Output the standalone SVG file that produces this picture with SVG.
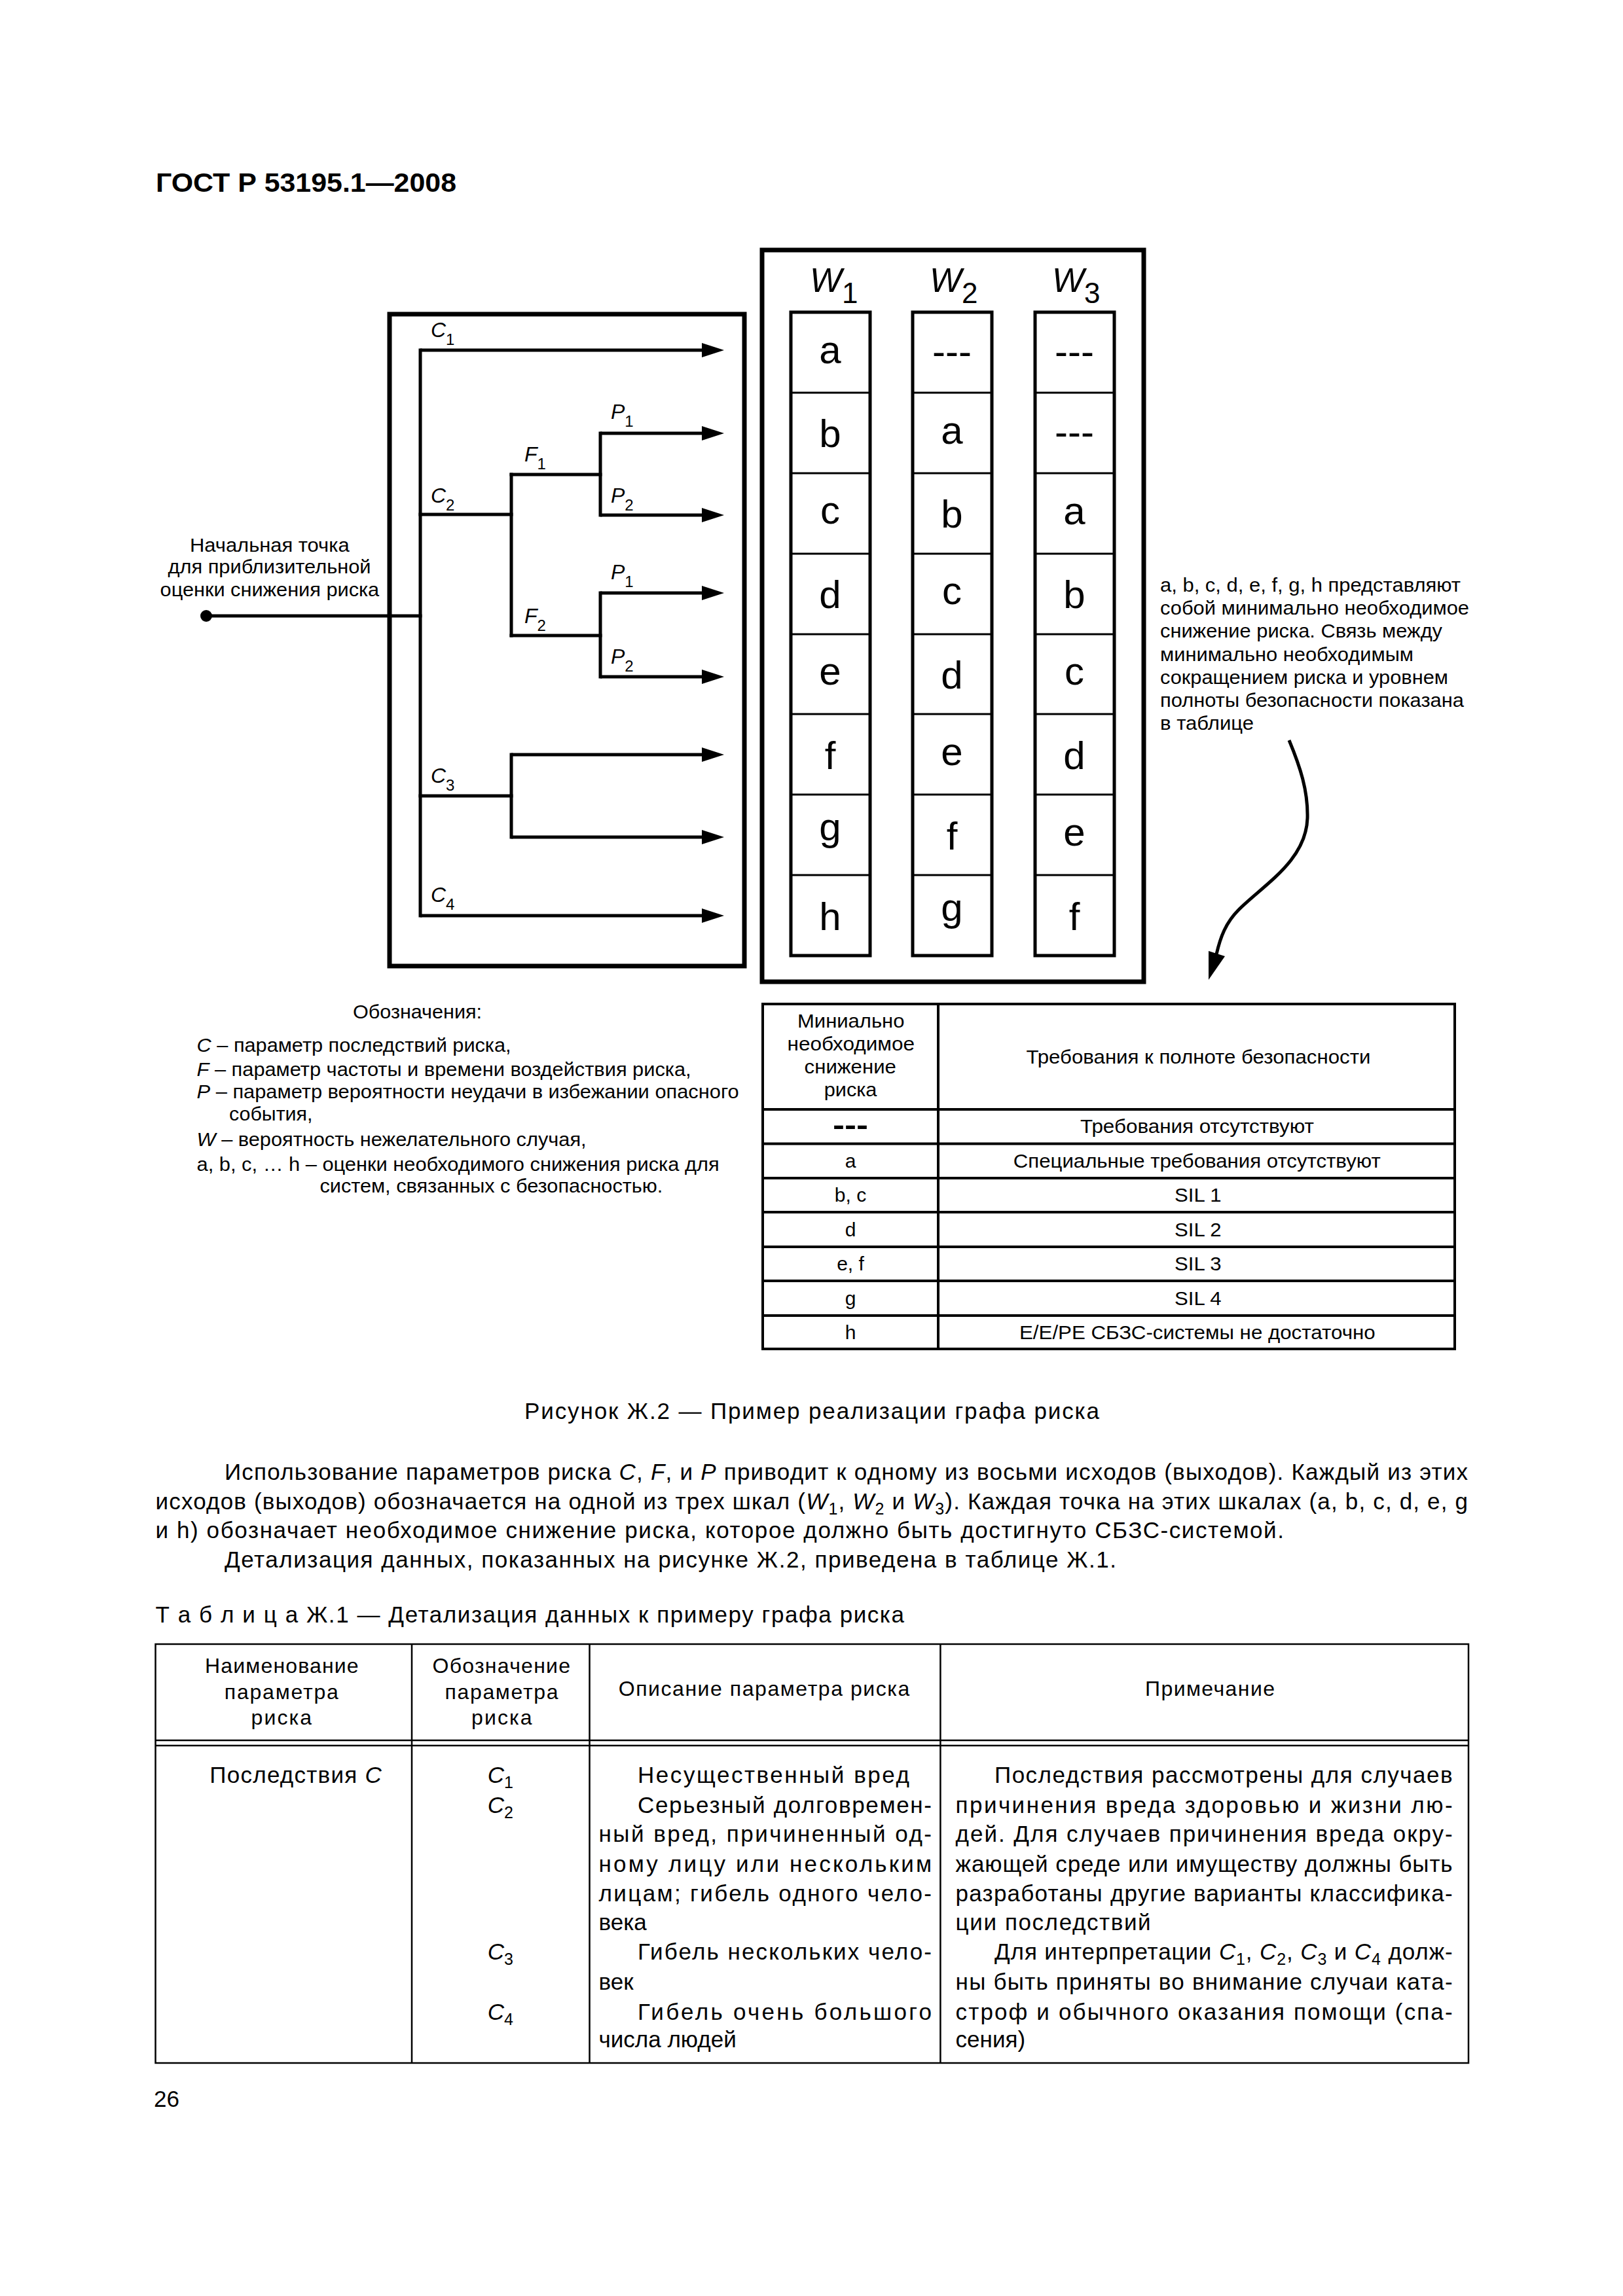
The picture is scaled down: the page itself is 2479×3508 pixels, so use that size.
<svg xmlns="http://www.w3.org/2000/svg" width="2479" height="3508" viewBox="0 0 2479 3508">
<style>
text{font-family:"Liberation Sans",Arial,sans-serif;fill:#000}
.i{font-style:italic}
.box{fill:none;stroke:#000;stroke-width:7}
.col{fill:none;stroke:#000;stroke-width:5}
.div{stroke:#000;stroke-width:3}
.ln{fill:none;stroke:#000;stroke-width:5;stroke-linecap:square}
.arr{fill:none;stroke:#000;stroke-width:5;marker-end:url(#ah)}
.tb{fill:none;stroke:#000;stroke-width:4}
.tb2{fill:none;stroke:#000;stroke-width:2.5}
.lbl{font-size:32px}
.cell{font-size:60px;text-anchor:middle}
.ann{font-size:30px}
.leg{font-size:29px}
.req{font-size:30px}
.body{font-size:35px}
.th{font-size:32px}
</style>
<defs>
<marker id="ah" markerUnits="userSpaceOnUse" markerWidth="36" markerHeight="24" refX="8" refY="11" orient="auto">
<path d="M0,0 L34,11 L0,22 Z" fill="#000"/>
</marker>
</defs>

<g id="header">
<text x="238" y="293" font-size="41" font-weight="bold" textLength="459" lengthAdjust="spacingAndGlyphs">ГОСТ Р  53195.1—2008</text>
</g>

<g id="graph-box">
<rect class="box" x="595" y="480" width="542" height="996"/>
</g>

<g id="start-point">
<circle cx="315" cy="941" r="9" fill="#000"/>
<text class="ann" x="290" y="843" textLength="243.6" lengthAdjust="spacingAndGlyphs">Начальная точка</text>
<text class="ann" x="256.5" y="876" textLength="310" lengthAdjust="spacingAndGlyphs">для приблизительной</text>
<text class="ann" x="244.6" y="911" textLength="334.6" lengthAdjust="spacingAndGlyphs">оценки снижения риска</text>
</g>

<g id="connectors">
<path class="ln" d="M315,941 H642"/>
<path class="ln" d="M642,535 V1399"/>
<path class="ln" d="M642,786 H781"/>
<path class="ln" d="M781,725 V971"/>
<path class="ln" d="M781,725 H917"/>
<path class="ln" d="M917,662 V787"/>
<path class="ln" d="M781,971 H917"/>
<path class="ln" d="M917,906 V1034"/>
<path class="ln" d="M642,1216 H781"/>
<path class="ln" d="M781,1153 V1279"/>
<path class="arr" d="M642,535 H1080"/>
<path class="arr" d="M917,662 H1080"/>
<path class="arr" d="M917,787 H1080"/>
<path class="arr" d="M917,906 H1080"/>
<path class="arr" d="M917,1034 H1080"/>
<path class="arr" d="M781,1153 H1080"/>
<path class="arr" d="M781,1279 H1080"/>
<path class="arr" d="M642,1399 H1080"/>
<path d="M1969,1131 C1986,1172 1998,1208 1997,1250 C1995,1315 1930,1352 1892,1390 C1872,1410 1864,1432 1858,1458" fill="none" stroke="#000" stroke-width="5"/>
<polygon points="1846,1497 1871,1461 1846,1453" fill="#000"/>
</g>

<g id="graph-labels">
<text class="lbl" x="658" y="515"><tspan class="i">C</tspan><tspan font-size="24" dy="12">1</tspan></text>
<text class="lbl" x="658" y="768"><tspan class="i">C</tspan><tspan font-size="24" dy="12">2</tspan></text>
<text class="lbl" x="658" y="1196"><tspan class="i">C</tspan><tspan font-size="24" dy="12">3</tspan></text>
<text class="lbl" x="658" y="1378"><tspan class="i">C</tspan><tspan font-size="24" dy="12">4</tspan></text>
<text class="lbl" x="801" y="705"><tspan class="i">F</tspan><tspan font-size="24" dy="12">1</tspan></text>
<text class="lbl" x="801" y="952"><tspan class="i">F</tspan><tspan font-size="24" dy="12">2</tspan></text>
<text class="lbl" x="933" y="640"><tspan class="i">P</tspan><tspan font-size="24" dy="12">1</tspan></text>
<text class="lbl" x="933" y="768"><tspan class="i">P</tspan><tspan font-size="24" dy="12">2</tspan></text>
<text class="lbl" x="933" y="885"><tspan class="i">P</tspan><tspan font-size="24" dy="12">1</tspan></text>
<text class="lbl" x="933" y="1014"><tspan class="i">P</tspan><tspan font-size="24" dy="12">2</tspan></text>
</g>

<g id="w-box">
<rect class="box" x="1164" y="382" width="583" height="1118"/>
<text x="1237" y="446" font-size="52"><tspan class="i">W</tspan><tspan font-size="44" dy="17">1</tspan></text>
<text x="1420" y="446" font-size="52"><tspan class="i">W</tspan><tspan font-size="44" dy="17">2</tspan></text>
<text x="1607" y="446" font-size="52"><tspan class="i">W</tspan><tspan font-size="44" dy="17">3</tspan></text>
</g>

<g id="w1-scale">
<rect class="col" x="1208" y="477" width="121" height="983"/>
<path class="div" d="M1208,600 H1329 M1208,723 H1329 M1208,846 H1329 M1208,969 H1329 M1208,1091 H1329 M1208,1214 H1329 M1208,1337 H1329"/>
<text class="cell" x="1268" y="555">a</text>
<text class="cell" x="1268" y="683">b</text>
<text class="cell" x="1268" y="800">c</text>
<text class="cell" x="1268" y="929">d</text>
<text class="cell" x="1268" y="1046">e</text>
<text class="cell" x="1268" y="1175">f</text>
<text class="cell" x="1268" y="1284">g</text>
<text class="cell" x="1268" y="1421">h</text>
</g>

<g id="w2-scale">
<rect class="col" x="1394" y="477" width="121" height="983"/>
<path class="div" d="M1394,600 H1515 M1394,723 H1515 M1394,846 H1515 M1394,969 H1515 M1394,1091 H1515 M1394,1214 H1515 M1394,1337 H1515"/>
<text class="cell" x="1454" y="557">---</text>
<text class="cell" x="1454" y="678">a</text>
<text class="cell" x="1454" y="806">b</text>
<text class="cell" x="1454" y="923">c</text>
<text class="cell" x="1454" y="1052">d</text>
<text class="cell" x="1454" y="1169">e</text>
<text class="cell" x="1454" y="1298">f</text>
<text class="cell" x="1454" y="1407">g</text>
</g>

<g id="w3-scale">
<rect class="col" x="1581" y="477" width="121" height="983"/>
<path class="div" d="M1581,600 H1702 M1581,723 H1702 M1581,846 H1702 M1581,969 H1702 M1581,1091 H1702 M1581,1214 H1702 M1581,1337 H1702"/>
<text class="cell" x="1641" y="557">---</text>
<text class="cell" x="1641" y="680">---</text>
<text class="cell" x="1641" y="801">a</text>
<text class="cell" x="1641" y="929">b</text>
<text class="cell" x="1641" y="1046">c</text>
<text class="cell" x="1641" y="1175">d</text>
<text class="cell" x="1641" y="1292">e</text>
<text class="cell" x="1641" y="1421">f</text>
</g>

<g id="annotation">
<text class="ann" x="1772" y="904" textLength="459" lengthAdjust="spacingAndGlyphs">a, b, c, d, e, f, g, h представляют</text>
<text class="ann" x="1772" y="939" textLength="472" lengthAdjust="spacingAndGlyphs">собой минимально необходимое</text>
<text class="ann" x="1772" y="974" textLength="431" lengthAdjust="spacingAndGlyphs">снижение риска. Связь между</text>
<text class="ann" x="1772" y="1010" textLength="387" lengthAdjust="spacingAndGlyphs">минимально необходимым</text>
<text class="ann" x="1772" y="1045" textLength="440" lengthAdjust="spacingAndGlyphs">сокращением риска и уровнем</text>
<text class="ann" x="1772" y="1080" textLength="464" lengthAdjust="spacingAndGlyphs">полноты безопасности показана</text>
<text class="ann" x="1772" y="1115" textLength="143" lengthAdjust="spacingAndGlyphs">в таблице</text>
</g>

<g id="legend">
<text class="leg" x="539" y="1556" textLength="197" lengthAdjust="spacingAndGlyphs">Обозначения:</text>
<text class="leg" x="300.6" y="1607" textLength="480" lengthAdjust="spacingAndGlyphs"><tspan class="i">C</tspan> – параметр последствий риска,</text>
<text class="leg" x="300.6" y="1644" textLength="755" lengthAdjust="spacingAndGlyphs"><tspan class="i">F</tspan> – параметр частоты и времени воздействия риска,</text>
<text class="leg" x="300.6" y="1678" textLength="828" lengthAdjust="spacingAndGlyphs"><tspan class="i">P</tspan> – параметр вероятности неудачи в избежании опасного</text>
<text class="leg" x="350" y="1712" textLength="127.5" lengthAdjust="spacingAndGlyphs">события,</text>
<text class="leg" x="300.6" y="1751" textLength="595" lengthAdjust="spacingAndGlyphs"><tspan class="i">W</tspan> – вероятность нежелательного случая,</text>
<text class="leg" x="300.6" y="1789" textLength="798" lengthAdjust="spacingAndGlyphs">a, b, c, … h – оценки необходимого снижения риска для</text>
<text class="leg" x="488.4" y="1822" textLength="524" lengthAdjust="spacingAndGlyphs">систем, связанных с безопасностью.</text>
</g>

<g id="requirements-table">
<rect class="tb" x="1165" y="1534" width="1057" height="527"/>
<path class="tb" d="M1433,1534 V2061 M1165,1695 H2222 M1165,1747.6 H2222 M1165,1800 H2222 M1165,1852 H2222 M1165,1905 H2222 M1165,1957 H2222 M1165,2010 H2222"/>
<text class="req" x="1218" y="1570" textLength="163.5" lengthAdjust="spacingAndGlyphs">Миниально</text>
<text class="req" x="1202.6" y="1605" textLength="194.4" lengthAdjust="spacingAndGlyphs">необходимое</text>
<text class="req" x="1228.6" y="1640" textLength="140.3" lengthAdjust="spacingAndGlyphs">снижение</text>
<text class="req" x="1258.7" y="1675" textLength="80.7" lengthAdjust="spacingAndGlyphs">риска</text>
<text class="req" x="1567.4" y="1625" textLength="526" lengthAdjust="spacingAndGlyphs">Требования к полноте безопасности</text>
<text x="1272" y="1734" font-size="44" font-weight="bold" textLength="54" lengthAdjust="spacingAndGlyphs">---</text>
<text class="req" x="1299" y="1784" text-anchor="middle">a</text>
<text class="req" x="1299" y="1836" text-anchor="middle">b, c</text>
<text class="req" x="1299" y="1888.5" text-anchor="middle">d</text>
<text class="req" x="1299" y="1941" text-anchor="middle">e, f</text>
<text class="req" x="1299" y="1993.5" text-anchor="middle">g</text>
<text class="req" x="1299" y="2045.5" text-anchor="middle">h</text>
<text class="req" x="1650" y="1731" textLength="357" lengthAdjust="spacingAndGlyphs">Требования отсутствуют</text>
<text class="req" x="1547.8" y="1784" textLength="561" lengthAdjust="spacingAndGlyphs">Специальные требования отсутствуют</text>
<text class="req" x="1794" y="1836" textLength="71.5" lengthAdjust="spacingAndGlyphs">SIL 1</text>
<text class="req" x="1794" y="1888.5" textLength="71.5" lengthAdjust="spacingAndGlyphs">SIL 2</text>
<text class="req" x="1794" y="1941" textLength="71.5" lengthAdjust="spacingAndGlyphs">SIL 3</text>
<text class="req" x="1794" y="1993.5" textLength="71.5" lengthAdjust="spacingAndGlyphs">SIL 4</text>
<text class="req" x="1557" y="2045.5" textLength="543.6" lengthAdjust="spacingAndGlyphs">E/E/PE СБЗС-системы не достаточно</text>
</g>

<g id="caption">
<text class="body" x="801" y="2168" textLength="878">Рисунок Ж.2 —  Пример реализации графа риска</text>
</g>

<g id="paragraph">
<text class="body" x="343" y="2261" textLength="1899">Использование параметров риска <tspan class="i">C</tspan>, <tspan class="i">F</tspan>, и <tspan class="i">P</tspan> приводит к одному из восьми исходов (выходов). Каждый из этих</text>
<text class="body" x="237.5" y="2305.5" textLength="2004.5">исходов (выходов) обозначается на одной из трех шкал (<tspan class="i">W</tspan><tspan font-size="25" dy="8">1</tspan><tspan dy="-8">, </tspan><tspan class="i">W</tspan><tspan font-size="25" dy="8">2</tspan><tspan dy="-8"> и </tspan><tspan class="i">W</tspan><tspan font-size="25" dy="8">3</tspan><tspan dy="-8">). Каждая точка на этих шкалах (a, b, c, d, e, g</tspan></text>
<text class="body" x="237.5" y="2350" textLength="1723.5">и h) обозначает необходимое снижение риска, которое должно быть достигнуто СБЗС-системой.</text>
<text class="body" x="343" y="2394.6" textLength="1362">Детализация данных, показанных на рисунке Ж.2, приведена в таблице Ж.1.</text>
<text class="body" x="237.5" y="2479" textLength="1143.5">Т а б л и ц а  Ж.1 — Детализация данных к примеру графа риска</text>
</g>

<g id="table-zh1">
<rect class="tb2" x="237.5" y="2512" width="2005.5" height="640"/>
<path class="tb2" d="M629,2512 V3152 M900.5,2512 V3152 M1436.4,2512 V3152 M237.5,2659 H2243 M237.5,2667 H2243"/>
<text class="th" x="313" y="2556" textLength="234.6">Наименование</text>
<text class="th" x="342.8" y="2596" textLength="174">параметра</text>
<text class="th" x="383.5" y="2635" textLength="92.6">риска</text>
<text class="th" x="660.5" y="2556" textLength="210.5">Обозначение</text>
<text class="th" x="679.5" y="2596" textLength="173">параметра</text>
<text class="th" x="720" y="2635" textLength="92.6">риска</text>
<text class="th" x="944.7" y="2591" textLength="444.7">Описание параметра риска</text>
<text class="th" x="1749" y="2591" textLength="198">Примечание</text>

<text class="body" x="320.3" y="2724" textLength="262.4">Последствия <tspan class="i">C</tspan></text>
<text class="body" x="744.7" y="2724"><tspan class="i">C</tspan><tspan font-size="25" dy="8">1</tspan></text>
<text class="body" x="744.7" y="2770"><tspan class="i">C</tspan><tspan font-size="25" dy="8">2</tspan></text>
<text class="body" x="744.7" y="2994"><tspan class="i">C</tspan><tspan font-size="25" dy="8">3</tspan></text>
<text class="body" x="744.7" y="3086"><tspan class="i">C</tspan><tspan font-size="25" dy="8">4</tspan></text>

<text class="body" x="974" y="2724" textLength="415">Несущественный вред</text>
<text class="body" x="974" y="2770" textLength="449">Серьезный долговремен-</text>
<text class="body" x="914.5" y="2814" textLength="508.5">ный вред, причиненный од-</text>
<text class="body" x="914.5" y="2860" textLength="508.5">ному лицу или нескольким</text>
<text class="body" x="914.5" y="2905" textLength="508.5">лицам; гибель одного чело-</text>
<text class="body" x="914.5" y="2949">века</text>
<text class="body" x="974" y="2994" textLength="449">Гибель нескольких чело-</text>
<text class="body" x="914.5" y="3040">век</text>
<text class="body" x="974" y="3086" textLength="449">Гибель очень большого</text>
<text class="body" x="914.5" y="3128">числа людей</text>

<text class="body" x="1519" y="2724" textLength="699.6">Последствия рассмотрены для случаев</text>
<text class="body" x="1459.6" y="2770" textLength="759">причинения вреда здоровью и жизни лю-</text>
<text class="body" x="1459.6" y="2814" textLength="759">дей. Для случаев причинения вреда окру-</text>
<text class="body" x="1459.6" y="2860" textLength="759">жающей среде или имуществу должны быть</text>
<text class="body" x="1459.6" y="2905" textLength="759">разработаны другие варианты классифика-</text>
<text class="body" x="1459.6" y="2949" textLength="298">ции последствий</text>
<text class="body" x="1519" y="2994" textLength="699.6">Для интерпретации <tspan class="i">C</tspan><tspan font-size="25" dy="8">1</tspan><tspan dy="-8">, </tspan><tspan class="i">C</tspan><tspan font-size="25" dy="8">2</tspan><tspan dy="-8">, </tspan><tspan class="i">C</tspan><tspan font-size="25" dy="8">3</tspan><tspan dy="-8"> и </tspan><tspan class="i">C</tspan><tspan font-size="25" dy="8">4</tspan><tspan dy="-8"> долж-</tspan></text>
<text class="body" x="1459.6" y="3040" textLength="759">ны быть приняты во внимание случаи ката-</text>
<text class="body" x="1459.6" y="3086" textLength="759">строф и обычного оказания помощи (спа-</text>
<text class="body" x="1459.6" y="3128">сения)</text>
</g>

<g id="page-number">
<text class="body" x="235" y="3219">26</text>
</g>
</svg>
